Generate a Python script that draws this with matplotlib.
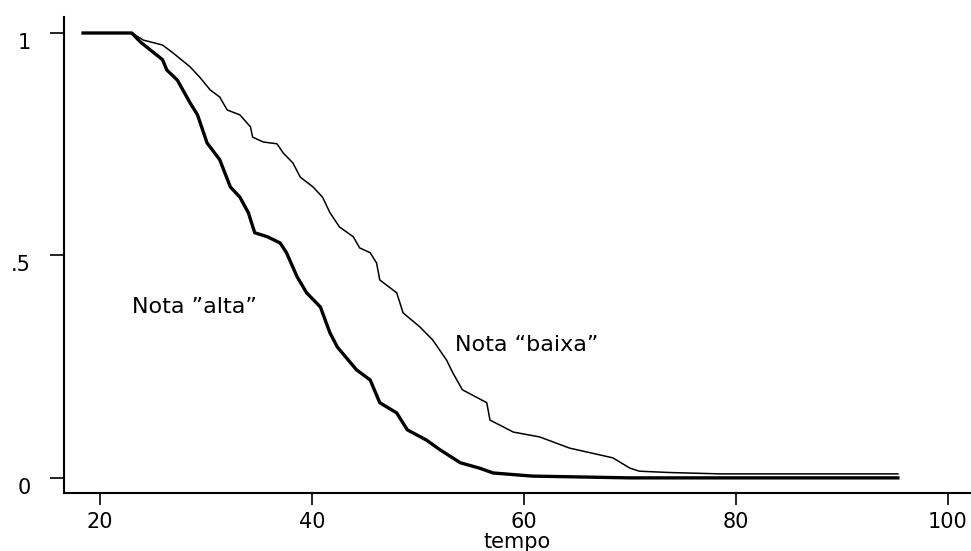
import matplotlib
matplotlib.use("Agg")
import matplotlib.pyplot as plt

# curva de sobrevivencia - nota "alta" (linha grossa)
tempo_alta = [18.4, 23.0, 23.8, 25.9, 26.3, 27.3, 28.5, 29.2, 30.1, 31.3, 32.3, 33.2,
              34.0, 34.6, 35.8, 37.0, 37.6, 38.6, 39.5, 40.8, 41.7, 42.4, 44.2, 45.5,
              46.4, 48.0, 49.0, 50.8, 52.1, 54.0, 55.8, 57.1, 60.8, 70.0, 95.3]
surv_alta = [1.0, 1.0, 0.98, 0.94, 0.917, 0.894, 0.843, 0.816, 0.753, 0.715, 0.654, 0.631,
             0.596, 0.551, 0.542, 0.528, 0.506, 0.452, 0.416, 0.384, 0.326, 0.294, 0.243, 0.220,
             0.169, 0.146, 0.108, 0.085, 0.063, 0.034, 0.022, 0.011, 0.004, 0.0, 0.0]

# nota "baixa" (linha fina)
tempo_baixa = [18.4, 23.0, 24.1, 25.9, 26.9, 28.5, 29.4, 30.4, 31.3, 32.0, 33.2, 34.2,
               34.4, 35.4, 36.7, 37.3, 38.2, 38.9, 40.1, 41.0, 41.7, 42.6, 43.9, 44.5,
               45.5, 46.1, 46.4, 48.0, 48.6, 50.2, 51.4, 52.7, 53.3, 54.2, 56.5, 56.8,
               59.0, 61.5, 64.3, 68.4, 70.0, 70.9, 73.8, 78.5, 95.3]
surv_baixa = [1.0, 1.0, 0.984, 0.973, 0.955, 0.924, 0.901, 0.872, 0.856, 0.827, 0.816, 0.789,
              0.766, 0.755, 0.751, 0.730, 0.708, 0.676, 0.654, 0.631, 0.596, 0.564, 0.542, 0.517,
              0.506, 0.483, 0.445, 0.416, 0.371, 0.339, 0.310, 0.265, 0.236, 0.198, 0.169, 0.130,
              0.103, 0.092, 0.067, 0.045, 0.022, 0.015, 0.012, 0.009, 0.009]

xticks = [20, 40, 60, 80, 100]
yticks = [0, 0.5, 1]
ytick_labels = ["0", ".5", "1"]

plt.rcParams["font.family"] = ["DejaVu Sans"]

fig = plt.figure(figsize=(9.71, 5.51), dpi=100)
ax = fig.add_axes([64 / 971, 58 / 551, 1 - 64 / 971, 476 / 551])

ax.plot(tempo_baixa, surv_baixa, color="black", lw=1.1)
ax.plot(tempo_alta, surv_alta, color="black", lw=2.4)

ax.set_xlim(16.6, 102.2)
ax.set_ylim(-0.034, 1.036)

ax.spines["top"].set_visible(False)
ax.spines["right"].set_visible(False)
ax.spines["left"].set_linewidth(1.5)
ax.spines["bottom"].set_linewidth(1.5)

ax.set_xticks(xticks)
ax.set_yticks(yticks)
ax.set_yticklabels(ytick_labels)
ax.tick_params(axis="x", length=8.6, width=1.2, labelsize=15, pad=5)
ax.tick_params(axis="y", length=10, width=1.2, labelsize=15, pad=14)
for lab in ax.get_yticklabels():
    lab.set_verticalalignment("top")

ax.set_xlabel("tempo", fontsize=15, labelpad=0)

ax.text(28.9, 0.384, "Nota \u201dalta\u201d", fontsize=16, ha="center", va="center")
ax.text(60.3, 0.299, "Nota \u201cbaixa\u201d", fontsize=16, ha="center", va="center")

fig.savefig("out.png", dpi=100)
